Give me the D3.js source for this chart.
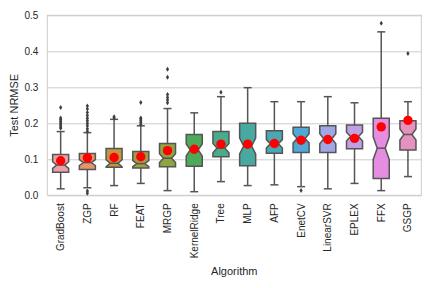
<!DOCTYPE html>
<html lang="en">
<head>
  <meta charset="UTF-8">
  <title>Test NRMSE by algorithm</title>
  <script src="https://cdn.jsdelivr.net/npm/d3@7"></script>
</head>
<body style="margin:0; background:#fff;">
<script>
  // values
  const algorithms = ["GradBoost", "ZGP", "RF", "FEAT", "MRGP", "KernelRidge", "Tree",
    "MLP", "AFP", "EnetCV", "LinearSVR", "EPLEX", "FFX", "GSGP"];
  const whiskerLow = [0.018, 0.021, 0.027, 0.033, 0.013, 0.010, 0.038, 0.027, 0.029, 0.024, 0.018, 0.033, 0.013, 0.052];
  const q1 = [0.064, 0.072, 0.078, 0.076, 0.079, 0.081, 0.107, 0.082, 0.117, 0.119, 0.119, 0.129, 0.047, 0.126];
  const median = [0.084, 0.091, 0.089, 0.088, 0.103, 0.126, 0.131, 0.137, 0.143, 0.158, 0.157, 0.163, 0.131, 0.169];
  const q3 = [0.113, 0.116, 0.130, 0.122, 0.144, 0.169, 0.177, 0.200, 0.179, 0.189, 0.193, 0.195, 0.214, 0.207];
  const whiskerHigh = [0.177, 0.174, 0.211, 0.193, 0.241, 0.229, 0.274, 0.299, 0.260, 0.260, 0.274, 0.257, 0.454, 0.260];
  const means = [0.096, 0.104, 0.105, 0.107, 0.124, 0.128, 0.142, 0.142, 0.144, 0.153, 0.155, 0.158, 0.190, 0.208];
  const outliers = [
    [0.186, 0.190, 0.195, 0.200, 0.205, 0.210, 0.215, 0.244],
    [0.006, 0.012, 0.178, 0.185, 0.193, 0.200, 0.207, 0.214, 0.222, 0.230, 0.240, 0.248],
    [0.215, 0.218],
    [0.197, 0.202, 0.207, 0.212, 0.215, 0.258],
    [0.257, 0.265, 0.272, 0.280, 0.328, 0.350],
    [],
    [0.286],
    [],
    [],
    [0.013],
    [],
    [],
    [0.478],
    [0.394]
  ];
  const nDatasets = 70; // used for the notch (1.57 * IQR / sqrt(n))
  const yTicks = [0.0, 0.1, 0.2, 0.3, 0.4, 0.5];

  const palette = ["#e9a1a9", "#e3956d", "#c1963f", "#a39d41", "#8da643", "#4eaa5b", "#4aab8c",
    "#48a9a1", "#49a8b1", "#50a8d6", "#9fa7e5", "#c19fe5", "#e68ce1", "#e692c1"];
  const lineColor = "#555555";
  const textColor = "#262626";
  const font = "Arial, 'Liberation Sans', sans-serif";

  const width = 432, height = 288;
  const plotLeft = 47.3, plotRight = 421.3, plotTop = 15.3, plotBottom = 195.3;

  const svg = d3.select("body").append("svg")
    .attr("width", width)
    .attr("height", height)
    .style("display", "block");

  const x = d3.scaleBand().domain(algorithms).range([plotLeft, plotRight]);
  const y = d3.scaleLinear().domain([0, 0.5]).range([plotBottom, plotTop]);

  // grid + y axis
  const yAxis = svg.append("g")
    .attr("transform", `translate(${plotLeft},0)`)
    .call(d3.axisLeft(y).tickValues(yTicks).tickFormat(d3.format(".1f"))
      .tickSize(-(plotRight - plotLeft)).tickPadding(9));
  yAxis.select(".domain").remove();
  yAxis.selectAll("line").attr("stroke", "#cccccc").attr("stroke-width", 1);
  yAxis.selectAll("text").attr("fill", textColor).style("font-family", font).style("font-size", "10px");

  svg.append("rect")
    .attr("x", plotLeft).attr("y", plotTop)
    .attr("width", plotRight - plotLeft).attr("height", plotBottom - plotTop)
    .attr("fill", "none").attr("stroke", "#cccccc").attr("stroke-width", 1);

  // x axis
  const xAxis = svg.append("g")
    .attr("transform", `translate(0,${plotBottom})`)
    .call(d3.axisBottom(x).tickSize(0));
  xAxis.select(".domain").remove();
  xAxis.selectAll("text")
    .attr("transform", "rotate(-90)")
    .attr("text-anchor", "end")
    .attr("x", -8)
    .attr("y", 0)
    .attr("dy", "0.35em")
    .attr("fill", textColor)
    .style("font-family", font)
    .style("font-size", "10px");

  svg.append("text")
    .attr("x", (plotLeft + plotRight) / 2)
    .attr("y", 275)
    .attr("text-anchor", "middle")
    .attr("fill", textColor)
    .style("font-family", font)
    .style("font-size", "11px")
    .text("Algorithm");

  svg.append("text")
    .attr("transform", `translate(17.5,${(plotTop + plotBottom) / 2}) rotate(-90)`)
    .attr("text-anchor", "middle")
    .attr("fill", textColor)
    .style("font-family", font)
    .style("font-size", "11px")
    .text("Test NRMSE");

  // boxes
  const boxW = x.bandwidth() * 0.6;
  const stats = algorithms.map((a, i) => ({
    name: a, i,
    lo: whiskerLow[i], q1: q1[i], med: median[i], q3: q3[i], hi: whiskerHigh[i],
    mean: means[i], fliers: outliers[i]
  }));

  const g = svg.selectAll("g.box")
    .data(stats)
    .enter()
    .append("g")
    .attr("class", "box")
    .attr("transform", d => `translate(${x(d.name) + x.bandwidth() / 2},0)`);

  // whiskers
  g.append("line")
    .attr("x1", 0).attr("x2", 0)
    .attr("y1", d => y(d.q3)).attr("y2", d => y(d.hi))
    .attr("stroke", lineColor).attr("stroke-width", 1.5);
  g.append("line")
    .attr("x1", 0).attr("x2", 0)
    .attr("y1", d => y(d.q1)).attr("y2", d => y(d.lo))
    .attr("stroke", lineColor).attr("stroke-width", 1.5);
  // caps
  g.selectAll("line.cap")
    .data(d => [d.lo, d.hi])
    .enter()
    .append("line")
    .attr("class", "cap")
    .attr("x1", -boxW / 4).attr("x2", boxW / 4)
    .attr("y1", v => y(v)).attr("y2", v => y(v))
    .attr("stroke", lineColor).attr("stroke-width", 1.5);

  // notched box
  g.append("path")
    .attr("d", d => {
      const hw = boxW / 2, cw = boxW / 4;
      const half = 1.57 * (d.q3 - d.q1) / Math.sqrt(nDatasets);
      const nLo = d.med - half, nHi = d.med + half;
      const p = d3.path();
      p.moveTo(-hw, y(d.q1));
      p.lineTo(-hw, y(nLo));
      p.lineTo(-cw, y(d.med));
      p.lineTo(-hw, y(nHi));
      p.lineTo(-hw, y(d.q3));
      p.lineTo(hw, y(d.q3));
      p.lineTo(hw, y(nHi));
      p.lineTo(cw, y(d.med));
      p.lineTo(hw, y(nLo));
      p.lineTo(hw, y(d.q1));
      p.closePath();
      return p.toString();
    })
    .attr("fill", d => palette[d.i])
    .attr("stroke", lineColor)
    .attr("stroke-width", 1.5)
    .attr("stroke-linejoin", "miter");

  // median
  g.append("line")
    .attr("x1", -boxW / 4).attr("x2", boxW / 4)
    .attr("y1", d => y(d.med)).attr("y2", d => y(d.med))
    .attr("stroke", lineColor).attr("stroke-width", 1.5);

  // fliers (thin diamonds)
  g.selectAll("path.flier")
    .data(d => d.fliers)
    .enter()
    .append("path")
    .attr("class", "flier")
    .attr("d", "M0,-2.5L1.6,0L0,2.5L-1.6,0Z")
    .attr("transform", v => `translate(0,${y(v)})`)
    .attr("fill", "#3f3f3f");

  // means
  g.append("circle")
    .attr("cx", 0)
    .attr("cy", d => y(d.mean))
    .attr("r", 4.7)
    .attr("fill", "#ff0000");
</script>
</body>
</html>
